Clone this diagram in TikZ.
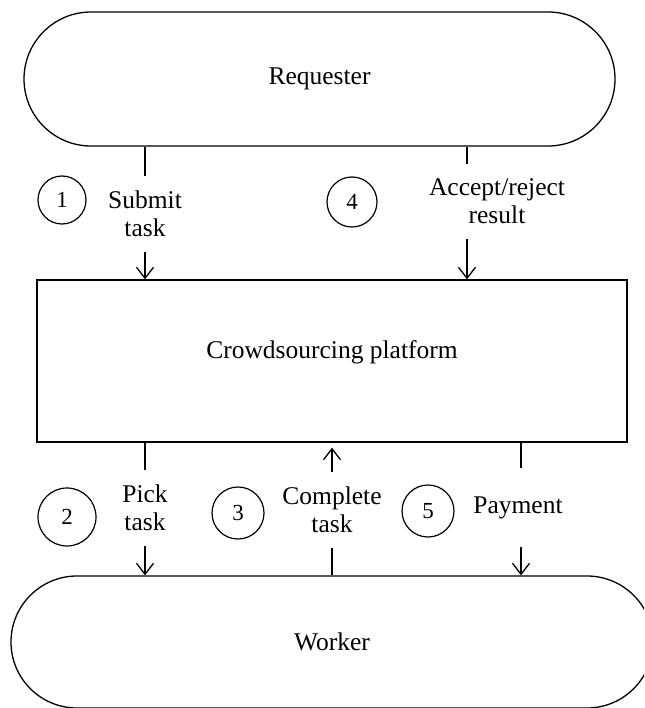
\documentclass[tikz,border=0pt]{standalone}
\usepackage{fontspec}
\setmainfont{Liberation Serif}
\usetikzlibrary{shapes.misc,arrows.meta}
\tikzset{
    party/.style={
		draw, rounded rectangle, inner sep=0pt,
		font=\fontsize{25.5}{28}\selectfont
	}
}
\tikzset{
    lbl/.style={
		align=center, inner sep=0pt, outer sep=15pt,
		font=\fontsize{25.5}{28}\selectfont
	}
}
\tikzset{
    num/.style={
		draw, circle, inner sep=0pt, line width=1.2pt,
		font=\fontsize{23}{25}\selectfont
	}
}
\tikzset{
    flow/.style={-{Straight Barb[length=11pt,width=17pt,line width=1.3pt]}}
}

\begin{document}
\begin{tikzpicture}[x=1pt, y=-1pt, line width=1.3pt]
			\useasboundingbox (0,0) rectangle (644,708);
			\clip (0,0) rectangle (644,708);
			\node[party, minimum width=591pt, minimum height=134pt] (req) at (319.5,79) {Requester};
			\node[draw, minimum width=590pt, minimum height=162pt] (plat) at (332,361) {};
			\node[font=\fontsize{25.5}{28}\selectfont] (platlbl) at (332,352) {Crowdsourcing platform};
			\node[party, minimum width=642pt, minimum height=132pt] (wrk) at (332,642) {Worker};
			% columns of the connectors
			\coordinate (c1) at (145,0);
			\coordinate (c4) at (467,0);
			\coordinate (c3) at (332,0);
			\coordinate (c5) at (521,0);
			% labels
			\node[lbl] (sub) at (145,214) {Submit\\task};
			\node[lbl] (acc) at (497,201.5) {Accept/reject\\result};
			\node[lbl] (pick) at (145,508) {Pick\\task};
			\node[lbl] (cmp) at (332,510) {Complete\\task};
			\node[lbl, outer ysep=28pt] (pay) at (518,507.5) {Payment};
			\node[num, minimum size=48pt] (n1) at (62,200) {1};
			\node[num, minimum size=50pt] (n4) at (352,202) {4};
			\node[num, minimum size=58pt] (n2) at (67,517) {2};
			\node[num, minimum size=52pt] (n3) at (238,513) {3};
			\node[num, minimum size=52pt] (n5) at (428,511) {5};
			% requester to platform
			\draw (req.south -| c1) -- (sub.north -| c1);
			\draw[flow] (sub.south -| c1) -- (plat.north -| c1);
			\draw (req.south -| c4) -- (acc.north -| c4);
			\draw[flow] (acc.south -| c4) -- (plat.north -| c4);
			% platform and worker
			\draw (plat.south -| c1) -- (pick.north -| c1);
			\draw[flow] (pick.south -| c1) -- (wrk.north -| c1);
			\draw[flow, shorten >=5pt] (cmp.north -| c3) -- (plat.south -| c3);
			\draw (cmp.south -| c3) -- (wrk.north -| c3);
			\draw (plat.south -| c5) -- (pay.north -| c5);
			\draw[flow] (pay.south -| c5) -- (wrk.north -| c5);
\end{tikzpicture}
\end{document}
